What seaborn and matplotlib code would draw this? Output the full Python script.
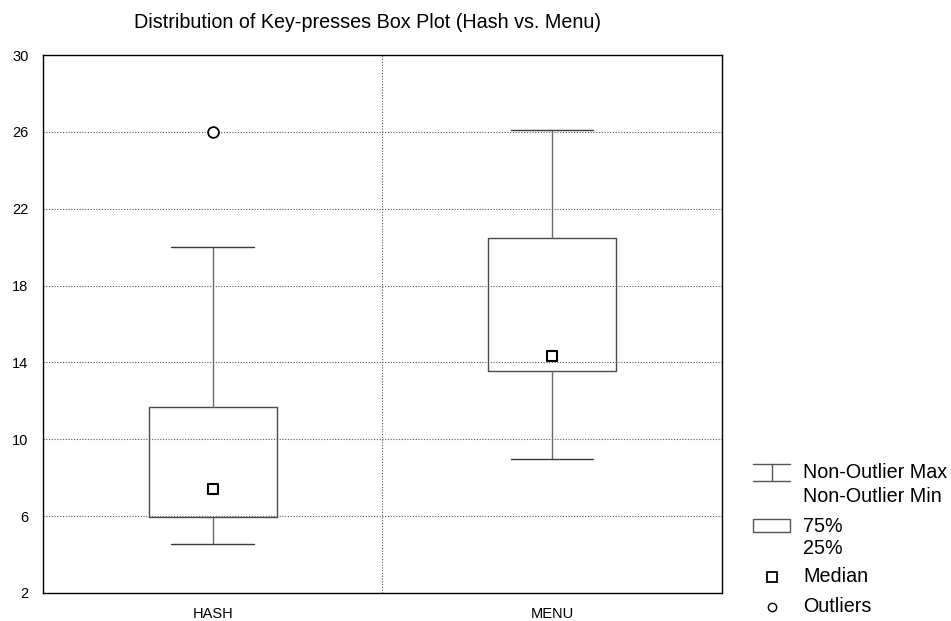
import matplotlib
matplotlib.use("Agg")
import matplotlib.pyplot as plt
import pandas as pd
import seaborn as sns
from matplotlib.lines import Line2D
from matplotlib.patches import Rectangle

sns.set_theme(style="white")
plt.rcParams["font.family"] = ["Liberation Sans", "DejaVu Sans"]
plt.rcParams["text.color"] = "black"

groups = ["HASH", "MENU"]
q1 = [5.95, 13.58]
median = [7.4, 14.34]
q3 = [11.67, 20.49]
whisker_low = [4.55, 8.98]
whisker_high = [20.0, 26.08]
outlier_group = ["HASH"]
outlier_value = [26.0]

y_ticks = [2, 6, 10, 14, 18, 22, 26, 30]

fig = plt.figure(figsize=(9.51, 6.21), dpi=100)
ax = fig.add_axes([0.0452, 0.0451, 0.7138, 0.8663])

stats = []
for i, g in enumerate(groups):
    stats.append({
        "label": g,
        "med": median[i],
        "q1": q1[i],
        "q3": q3[i],
        "whislo": whisker_low[i],
        "whishi": whisker_high[i],
        "fliers": [],
    })

ax.bxp(
    stats,
    positions=range(len(groups)),
    widths=0.377,
    capwidths=0.243,
    showfliers=False,
    boxprops=dict(color="#4a4a4a", linewidth=1.0),
    whiskerprops=dict(color="#6a6a6a", linewidth=1.0),
    capprops=dict(color="#3a3a3a", linewidth=1.0),
    medianprops=dict(linewidth=0),
    zorder=3,
)

med_df = pd.DataFrame({"group": groups, "value": median})
sns.scatterplot(data=med_df, x="group", y="value", marker="s", s=55,
                facecolor="white", edgecolor="black", linewidth=1.5, ax=ax, zorder=4)
out_df = pd.DataFrame({"group": outlier_group, "value": outlier_value})
sns.scatterplot(data=out_df, x="group", y="value", marker="o", s=60,
                facecolor="white", edgecolor="black", linewidth=1.3, ax=ax, zorder=4)

ax.set_xlim(-0.5, 1.5)
ax.set_ylim(2, 30)
ax.set_yticks(y_ticks)
ax.set_xticks(range(len(groups)))
ax.set_xticklabels(groups)
ax.set_xlabel("")
ax.set_ylabel("")
ax.tick_params(axis="both", length=0, labelsize=10.5, colors="black")
ax.tick_params(axis="y", pad=10.5)
ax.tick_params(axis="x", pad=10)
for yv in y_ticks[1:-1]:
    ax.axhline(yv, color="#555555", linestyle=(0, (1, 1.5)), linewidth=0.8, zorder=1)
ax.axvline(0.5, color="#555555", linestyle=(0, (1, 1.5)), linewidth=0.8, zorder=1)
for s in ax.spines.values():
    s.set_color("black")
    s.set_linewidth(1.0)

fig.text(368 / 951, 1 - 28.5 / 621, "Distribution of Key-presses Box Plot (Hash vs. Menu)",
         ha="center", va="baseline", fontsize=14.2)

# legend, drawn in figure pixel space
W, H = 951, 621


def fx(px):
    return px / W


def fy(py):
    return 1 - py / H


lc = "#555555"
fig.add_artist(Line2D([fx(753), fx(790)], [fy(464), fy(464)], color=lc, lw=1))
fig.add_artist(Line2D([fx(753), fx(790)], [fy(481), fy(481)], color=lc, lw=1))
fig.add_artist(Line2D([fx(771.5), fx(771.5)], [fy(464), fy(481)], color=lc, lw=1))
fig.add_artist(Rectangle((fx(753), fy(532)), fx(37), 13 / H, facecolor="white",
                         edgecolor=lc, lw=1))
fig.add_artist(Line2D([fx(772)], [fy(577)], marker="s", markersize=6.5,
                      markerfacecolor="white", markeredgecolor="black", mew=1.3))
fig.add_artist(Line2D([fx(772)], [fy(607)], marker="o", markersize=6,
                      markerfacecolor="white", markeredgecolor="black", mew=1.0))

legend_rows = [("Non-Outlier Max", 473), ("Non-Outlier Min", 496),
               ("75%", 526), ("25%", 549), ("Median", 577), ("Outliers", 607)]
for label, py in legend_rows:
    fig.text(fx(803), fy(py), label, ha="left", va="center", fontsize=14.2)

fig.savefig("out.png", dpi=100)
